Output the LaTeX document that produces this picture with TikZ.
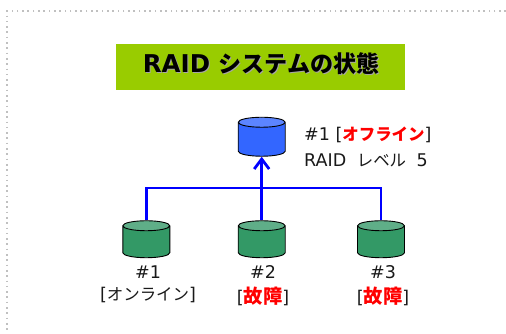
\documentclass[tikz,border=0pt]{standalone}
\usepackage{fontspec}
\setmainfont{DejaVu Sans}
\newfontfamily\cjk[Scale=0.94]{Noto Sans CJK JP}
\usetikzlibrary{arrows.meta,shapes.geometric}
\definecolor{titlegreen}{HTML}{99CC00}
\definecolor{diskgreen}{HTML}{339966}
\definecolor{diskgreentop}{HTML}{5FAE88}
\definecolor{diskblue}{HTML}{3366FF}
\definecolor{diskbluetop}{HTML}{5C85FF}
\definecolor{wireblue}{HTML}{0000FF}
\definecolor{framegray}{HTML}{C0C0C0}
\def\offl#1{\textcolor{red}{\bfseries\cjk #1}}
\def\fault#1{\textcolor{red}{\fontsize{20.5}{20}\selectfont\bfseries\cjk #1}}
\tikzset{
	disk/.style={draw=black, line width=0.9pt, cylinder, shape border rotate=90, shape aspect=1, minimum width=47pt, minimum height=37pt, inner xsep=5pt, inner ysep=5pt, cylinder uses custom fill, cylinder body fill=diskgreen, cylinder end fill=diskgreentop},
	masterdisk/.style={disk, minimum height=39pt, cylinder body fill=diskblue, cylinder end fill=diskbluetop},
	wire/.style={draw=wireblue, line width=2.8pt},
	label/.style={font=\fontsize{17.5}{20}\selectfont, text=black!90, inner sep=0pt},
	titletext/.style={font=\fontsize{24.5}{26}\selectfont\bfseries, inner sep=0pt}
}
\begin{document}
\begin{tikzpicture}[x=1pt, y=-1pt]
	%%%%% START %%%%%
	\useasboundingbox (0, 0) rectangle (506, 333);

	\draw[framegray, line width=1.6pt, dash pattern=on 1.6pt off 3.7pt] (506, 11) -- (7, 11) -- (7, 333);

	\fill[titlegreen] (116, 44) rectangle (405, 90);
	\node[titletext, text=black!35] (titleshadow) at (262, 64.5) {RAID {\cjk システムの状態}};
	\node[titletext] (title) at (261, 63.5) {RAID {\cjk システムの状態}};

	\node[masterdisk] (master) at (261.7, 141) {};
	\node[disk] (disk1) at (146.3, 243.5) {};
	\node[disk] (disk2) at (261.7, 243.5) {};
	\node[disk] (disk3) at (381, 243.5) {};

	\coordinate (joint) at (261.7, 188);
	\draw[wire] (disk1.top) |- (joint);
	\draw[wire] (disk3.top) |- (joint);
	\draw[wire, -{Straight Barb[length=10pt, width=15pt, line width=2.8pt]}] (disk2.top) -- (master.bottom);

	\node[label, anchor=west] (masterstate) at (304, 135) {\#1 [\offl{オフライン}]};
	\node[label, anchor=west] (masterlevel) at (304, 160) {RAID\hspace{5pt} {\cjk レベル}\hspace{5pt} 5};

	\node[label] (name1) at (148, 272) {\#1};
	\node[label] (state1) at (148, 295) {[{\cjk オンライン}]};
	\node[label] (name2) at (263, 272) {\#2};
	\node[label] (state2) at (263, 296) {[\fault{故障}]};
	\node[label] (name3) at (383, 272) {\#3};
	\node[label] (state3) at (383, 296) {[\fault{故障}]};
	%%%%% END %%%%%
\end{tikzpicture}
\end{document}
